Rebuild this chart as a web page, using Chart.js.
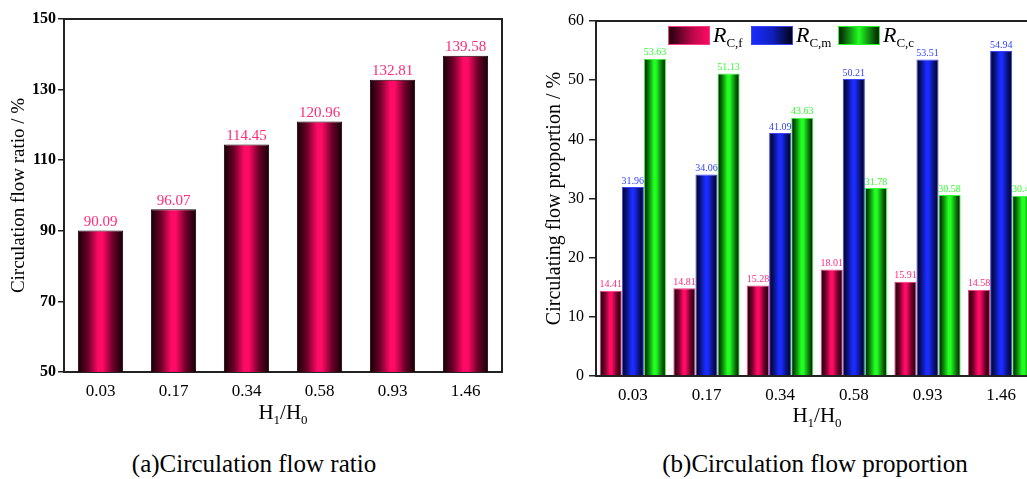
<!DOCTYPE html>
<html>
<head>
<meta charset="utf-8">
<script src="https://cdn.jsdelivr.net/npm/chart.js@4.4.1/dist/chart.umd.min.js"></script>
<style>
  html, body { margin: 0; padding: 0; background: #fff; overflow: hidden; }
  #page { position: relative; width: 1027px; height: 479px; overflow: hidden; }
  #c1 { position: absolute; left: 0; top: 0; }
  #c2 { position: absolute; left: 530px; top: 0; }
  .cap { position: absolute; top: 450px; font: 25px "Liberation Serif", serif; color: #000; white-space: nowrap; transform: translateX(-50%); }
</style>
</head>
<body>
<div id="page">
  <canvas id="c1" width="520" height="440"></canvas>
  <canvas id="c2" width="540" height="440"></canvas>
  <div class="cap" style="left:254px">(a)Circulation flow ratio</div>
  <div class="cap" style="left:815px">(b)Circulation flow proportion</div>
</div>
<script>
// data
var categories = ['0.03', '0.17', '0.34', '0.58', '0.93', '1.46'];
var flowRatio = [90.09, 96.07, 114.45, 120.96, 132.81, 139.58];
var rcf = [14.41, 14.81, 15.28, 18.01, 15.91, 14.58];
var rcm = [31.96, 34.06, 41.09, 50.21, 53.51, 54.94];
var rcc = [53.63, 51.13, 43.63, 31.78, 30.58, 30.48];

var serif = '"Liberation Serif", "Times New Roman", serif';

// gradient stops for the bars
var pinkStops = [[0, '#140006'], [0.22, '#6a0028'], [0.45, '#ff0a64'], [0.55, '#ff0a64'], [0.78, '#6a0028'], [1, '#140006']];
var blueStops = [[0, '#00000e'], [0.22, '#0a1280'], [0.45, '#1a2cff'], [0.55, '#1a2cff'], [0.78, '#0a1280'], [1, '#00000e']];
var greenStops = [[0, '#000e00'], [0.22, '#0a800a'], [0.45, '#22ff22'], [0.55, '#22ff22'], [0.78, '#0a800a'], [1, '#000e00']];

function makeGrad(ctx, x0, x1, stops) {
  var g = ctx.createLinearGradient(x0, 0, x1, 0);
  stops.forEach(function (s) { g.addColorStop(s[0], s[1]); });
  return g;
}

// paints each bar with a horizontal gradient
var gradientBars = {
  id: 'gradientBars',
  beforeDatasetsDraw: function (chart) {
    chart.data.datasets.forEach(function (ds, i) {
      var meta = chart.getDatasetMeta(i);
      meta.data.forEach(function (el) {
        var g = makeGrad(chart.ctx, el.x - el.width / 2, el.x + el.width / 2, ds.stops);
        el.options = Object.assign({}, el.options, { backgroundColor: g });
      });
    });
  }
};

// value labels, frame, axis titles
function decor(opts) {
  return {
    id: 'decor',
    afterDraw: function (chart) {
      var ctx = chart.ctx, a = chart.chartArea;
      ctx.save();
      // frame top/right
      ctx.strokeStyle = '#222';
      ctx.lineWidth = 2;
      ctx.beginPath();
      ctx.moveTo(a.left, a.top);
      ctx.lineTo(a.right, a.top);
      ctx.lineTo(a.right, a.bottom);
      ctx.stroke();

      // value labels
      chart.data.datasets.forEach(function (ds, i) {
        var meta = chart.getDatasetMeta(i);
        ctx.font = opts.labelFont;
        ctx.fillStyle = ds.labelColor;
        ctx.textAlign = 'center';
        ctx.textBaseline = 'bottom';
        meta.data.forEach(function (el, j) {
          ctx.fillText(ds.data[j].toFixed(2), el.x, el.y - 1);
        });
      });

      // y title
      ctx.save();
      ctx.translate(opts.yTitleX, (a.top + a.bottom) / 2);
      ctx.rotate(-Math.PI / 2);
      ctx.font = opts.yTitleFont;
      ctx.fillStyle = '#000';
      ctx.textAlign = 'center';
      ctx.textBaseline = 'middle';
      ctx.fillText(opts.yTitle, 0, 0);
      ctx.restore();

      // x title H1/H0
      var parts = [['H', false], ['1', true], ['/H', false], ['0', true]];
      var big = '21px ' + serif, small = '13px ' + serif;
      var w = 0;
      parts.forEach(function (p) { ctx.font = p[1] ? small : big; w += ctx.measureText(p[0]).width; });
      var x = (a.left + a.right) / 2 - w / 2;
      ctx.fillStyle = '#000';
      ctx.textAlign = 'left';
      ctx.textBaseline = 'alphabetic';
      parts.forEach(function (p) {
        ctx.font = p[1] ? small : big;
        ctx.fillText(p[0], x, opts.xTitleY + (p[1] ? 5 : 0));
        x += ctx.measureText(p[0]).width;
      });

      if (opts.legend) {
        opts.legend.forEach(function (it) {
          ctx.fillStyle = makeGrad(ctx, it.x, it.x + 42, it.stops);
          ctx.fillRect(it.x, 26, 42, 19);
          ctx.strokeStyle = it.border;
          ctx.lineWidth = 1;
          ctx.strokeRect(it.x + 0.5, 26.5, 41, 18);
          ctx.fillStyle = '#000';
          ctx.font = 'italic 22px ' + serif;
          ctx.fillText('R', it.x + 45, 42);
          var rw = ctx.measureText('R').width;
          ctx.font = '13px ' + serif;
          ctx.fillText(it.sub, it.x + 45 + rw, 47);
        });
      }
      ctx.restore();
    }
  };
}

function yAxis(min, max, step, width, tickLen, pad, font) {
  return {
    min: min, max: max,
    ticks: { stepSize: step, color: '#000', font: font, padding: pad },
    grid: { drawOnChartArea: false, drawTicks: true, tickLength: tickLen, color: '#222', lineWidth: 1.5 },
    border: { color: '#222', width: 2 },
    afterFit: function (s) { s.width = width; }
  };
}

function xAxis(height, pad, font) {
  return {
    ticks: { color: '#000', font: font, padding: pad },
    grid: { drawOnChartArea: false, drawTicks: false },
    border: { color: '#222', width: 2 },
    afterFit: function (s) { s.height = height; }
  };
}

new Chart(document.getElementById('c1'), {
  type: 'bar',
  data: {
    labels: categories,
    datasets: [{
      data: flowRatio,
      stops: pinkStops,
      labelColor: '#ff2a7a',
      borderColor: '#1a0008',
      borderWidth: 1,
      categoryPercentage: 1,
      barPercentage: 0.62
    }]
  },
  options: {
    responsive: false,
    animation: false,
    events: [],
    layout: { padding: { top: 19, right: 18, left: 0, bottom: 0 } },
    plugins: { legend: { display: false }, tooltip: { enabled: false } },
    scales: {
      x: xAxis(68, 9, { family: serif, size: 17 }),
      y: yAxis(50, 150, 20, 64, 6, 2, { family: serif, size: 16, weight: 'bold' })
    }
  },
  plugins: [gradientBars, decor({
    labelFont: '15px ' + serif,
    yTitle: 'Circulation flow ratio / %',
    yTitleFont: '19px ' + serif,
    yTitleX: 19,
    xTitleY: 419
  })]
});

new Chart(document.getElementById('c2'), {
  type: 'bar',
  data: {
    labels: categories,
    datasets: [{
      data: rcf, stops: pinkStops, labelColor: '#ff2a7a', borderColor: '#ff3a82', borderWidth: 1
    }, {
      data: rcm, stops: blueStops, labelColor: '#3344ff', borderColor: '#3a44ff', borderWidth: 1
    }, {
      data: rcc, stops: greenStops, labelColor: '#33ff33', borderColor: '#33ff33', borderWidth: 1
    }]
  },
  options: {
    responsive: false,
    animation: false,
    events: [],
    layout: { padding: { top: 21, right: 32, left: 0, bottom: 0 } },
    datasets: { bar: { categoryPercentage: 0.9, barPercentage: 1 } },
    plugins: { legend: { display: false }, tooltip: { enabled: false } },
    scales: {
      x: xAxis(64, 9, { family: serif, size: 17 }),
      y: yAxis(0, 60, 10, 66, 7, 5, { family: serif, size: 16 })
    }
  },
  plugins: [gradientBars, decor({
    labelFont: '10px ' + serif,
    yTitle: 'Circulating flow proportion / %',
    yTitleFont: '20px ' + serif,
    yTitleX: 25,
    xTitleY: 422,
    legend: [
      { x: 138, sub: 'C,f', border: '#ff3a82', stops: [[0, '#1a0008'], [0.6, '#c0084c'], [1, '#ff0a64']] },
      { x: 221, sub: 'C,m', border: '#3a44ff', stops: [[0, '#1a2cff'], [0.5, '#1020c0'], [1, '#00000e']] },
      { x: 308, sub: 'C,c', border: '#22ff22', stops: [[0, '#000e00'], [0.5, '#22ff22'], [1, '#000e00']] }
    ]
  })]
});
</script>
</body>
</html>
